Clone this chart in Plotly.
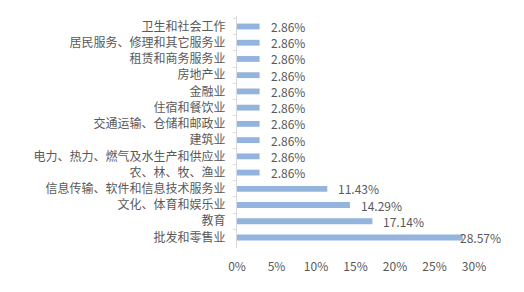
import plotly.graph_objects as go

categories = [
    "卫生和社会工作",
    "居民服务、修理和其它服务业",
    "租赁和商务服务业",
    "房地产业",
    "金融业",
    "住宿和餐饮业",
    "交通运输、仓储和邮政业",
    "建筑业",
    "电力、热力、燃气及水生产和供应业",
    "农、林、牧、渔业",
    "信息传输、软件和信息技术服务业",
    "文化、体育和娱乐业",
    "教育",
    "批发和零售业",
]
values = [2.86, 2.86, 2.86, 2.86, 2.86, 2.86, 2.86, 2.86, 2.86, 2.86, 11.43, 14.29, 17.14, 28.57]
labels = [f"{v:.2f}%" for v in values]
x_ticks = [0, 5, 10, 15, 20, 25, 30]
x_tick_labels = [f"{t}%" for t in x_ticks]

FONT = "Noto Sans CJK SC"
TXT = "#595959"

fig = go.Figure()
fig.add_trace(go.Bar(
    y=categories, x=values, orientation="h",
    marker=dict(color="#93b4dc", line=dict(width=0)),
    hoverinfo="skip",
))

for c, v, lab in zip(categories, values, labels):
    shift = 9 if v < 25 else -5
    fig.add_annotation(
        x=v, y=c, xref="x", yref="y", text=lab, showarrow=False,
        xanchor="left", yanchor="middle", xshift=shift,
        font=dict(family=FONT, size=12, color=TXT),
    )

fig.update_layout(
    width=524, height=292,
    margin=dict(l=237, r=50, t=16, b=44),
    paper_bgcolor="white", plot_bgcolor="white",
    bargap=0.64,
    showlegend=False,
    font=dict(family=FONT, size=12, color=TXT),
)
fig.update_xaxes(
    range=[0, 30], tickvals=x_ticks, ticktext=x_tick_labels,
    showgrid=False, zeroline=False, showline=False, ticks="",
    ticklabelstandoff=10,
    tickfont=dict(family=FONT, size=12, color=TXT),
)
fig.update_yaxes(
    autorange="reversed", showgrid=False, zeroline=False,
    showline=True, linecolor="#d9d9d9", linewidth=1,
    ticks="outside", tickson="boundaries", ticklen=3, tickcolor="#d9d9d9",
    ticklabelstandoff=8,
    tickfont=dict(family=FONT, size=12, color=TXT),
)

fig.write_html("out.html")
